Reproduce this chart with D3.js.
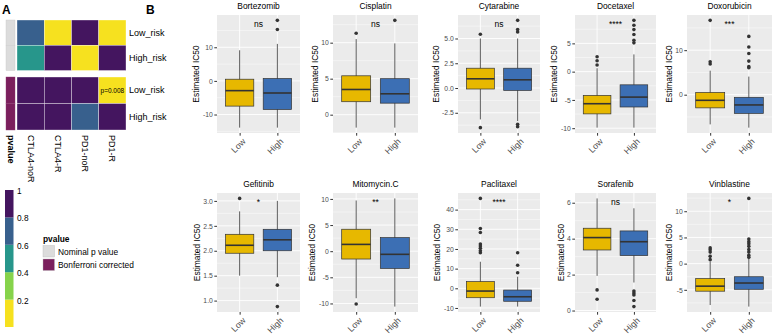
<!DOCTYPE html>
<html>
<head>
<meta charset="utf-8">
<script src="https://cdn.jsdelivr.net/npm/d3@7"></script>
<style>
  body { margin: 0; background: #fff; }
  svg text { font-family: "Liberation Sans", Arial, sans-serif; }
</style>
</head>
<body>
<div id="container"></div>
<script>
/* CONSTANTS AND GLOBALS */
const width = 774;
const height = 335;

/* DATA - panel A */
const heatCols = ["CTLA4-noR", "CTLA4-R", "PD1-noR", "PD1-R"];
const heatRows = ["Low_risk", "High_risk"];
const nominalP = [[0.68, 0.12, 0.91, 0.001], [0.52, 0.93, 0.09, 0.95]];
const bonferroniP = [[1, 1, 1, 0.008], [1, 1, 0.72, 1]];
const colorBreaks = [0, 0.2, 0.4, 0.6, 0.8, 1];
const colorLabels = ["0.2", "0.4", "0.6", "0.8", "1"];
const binColors = ["#f6e11f", "#86d34b", "#27968b", "#38608d", "#44155f"];

/* DATA - panel B */
const groups = ["Low", "High"];
const drugs = ["Bortezomib", "Cisplatin", "Cytarabine", "Docetaxel", "Doxorubicin",
               "Gefitinib", "Mitomycin.C", "Paclitaxel", "Sorafenib", "Vinblastine"];
const sigLabels = ["ns", "ns", "ns", "****", "***", "*", "**", "****", "ns", "*"];
// [lower whisker, q1, median, q3, upper whisker]
const lowBox = [
  [-13.9, -7.5, -2.9, 0.5, 9.1],
  [-1.8, 1.8, 3.5, 5.4, 10.5],
  [-3.17, -0.1, 0.93, 2.0, 5.0],
  [-9.9, -7.47, -5.67, -4.2, 0.6],
  [-6.67, -2.96, -1.26, 0.5, 5.4],
  [1.5, 1.95, 2.11, 2.33, 2.79],
  [-9.0, -1.5, 1.3, 4.2, 9.7],
  [-9.3, -4.8, -1.4, 3.4, 13.5],
  [1.93, 3.37, 4.06, 4.58, 6.24],
  [-7.9, -5.26, -4.3, -2.85, 0.4]
];
const highBox = [
  [-13.9, -8.5, -3.6, 0.7, 11.0],
  [-1.8, 1.6, 2.9, 5.0, 9.9],
  [-3.34, -0.24, 0.83, 2.0, 5.0],
  [-9.9, -6.25, -4.5, -2.33, 3.05],
  [-7.4, -4.2, -2.3, -0.59, 4.07],
  [1.47, 2.0, 2.22, 2.43, 3.0],
  [-10.6, -3.3, -0.6, 2.6, 10.1],
  [-9.3, -6.6, -4.3, -0.9, 5.9],
  [1.56, 3.06, 3.83, 4.43, 5.69],
  [-8.2, -4.9, -3.7, -2.5, 0.9]
];
const lowOut = [
  [], [11.3], [5.43, -4.0], [2.63, 1.93, 1.18], [16.7, 7.4, 6.9],
  [3.05], [-10.1], [45.7, 30.4, 28.4, 22.5, 21.5, 20.3, 19.1, 18.1],
  [1.15, 0.63], [3.0, 2.66, 2.2, 1.39, 0.76]
];
const highOut = [
  [15.3, 18.0], [13.1], [6.83, 5.9, 5.66, -3.67, -3.9], [9.07, 8.2, 7.44, 6.56, 5.56, 5.09],
  [13.1, 10.7, 9.26, 7.55, 6.3, 6.07],
  [1.31, 0.88], [], [18.1, 11.7, 7.9],
  [1.09, 0.97, 0.87, 0.56, 0.22], [12.45, 4.7, 4.2, 3.8, 3.3, 2.7, 2.2, 1.6, 1.2]
];
const yTicks = [
  [-10, 0, 10], [0, 5, 10], [-2.5, 0, 2.5, 5], [-10, -5, 0, 5], [0, 10],
  [1, 1.5, 2, 2.5, 3], [-10, -5, 0, 5, 10], [-10, 0, 10, 20, 30, 40], [0, 2, 4, 6], [-5, 0, 5, 10]
];
const groupColors = ["#E7B800", "#3C6FB4"];

/* LAYOUT */
const colLeft = [217, 333, 458, 575, 687];
const colRight = [300, 418, 540, 656, 772];
const rowTop = [15, 193];
const rowBottom = [133, 312];

/* HTML ELEMENTS */
const svg = d3.select("#container")
  .append("svg")
  .attr("width", width)
  .attr("height", height)

// panel letters
svg.append("text").attr("x", 2).attr("y", 14).text("A")
  .style("font-weight", "bold").style("font-size", "12px")
svg.append("text").attr("x", 146).attr("y", 14).text("B")
  .style("font-weight", "bold").style("font-size", "12px")

/* PANEL A - heatmap */
const color = d3.scaleThreshold()
  .domain([0.2, 0.4, 0.6, 0.8])
  .range(binColors);

const xHeat = d3.scaleBand().domain(heatCols).range([17, 126]);
const blocks = [
  { vals: nominalP, top: 20, bottom: 70.5, ann: "#dcdcdc" },
  { vals: bonferroniP, top: 77, bottom: 130, ann: "#7b1f5d" }
];

blocks.forEach(b => {
  const yHeat = d3.scaleBand().domain(heatRows).range([b.top, b.bottom]);
  const g = svg.append("g");
  heatRows.forEach((row, ri) => {
    // annotation column
    g.append("rect")
      .attr("x", 6).attr("y", yHeat(row))
      .attr("width", 9).attr("height", yHeat.bandwidth())
      .attr("fill", b.ann)
      .attr("stroke", b.ann === "#dcdcdc" ? "#c8c8c8" : "#8e3a70")
      .attr("stroke-width", 0.4)
    heatCols.forEach((col, ci) => {
      const v = b.vals[ri][ci];
      g.append("rect")
        .attr("x", xHeat(col)).attr("y", yHeat(row))
        .attr("width", xHeat.bandwidth()).attr("height", yHeat.bandwidth())
        .attr("fill", color(v))
        .attr("stroke", "#ffffff").attr("stroke-width", 0.5).attr("stroke-opacity", 0.7)
      if (b.vals === bonferroniP && v < 0.05) {
        g.append("text")
          .attr("x", xHeat(col) + xHeat.bandwidth() / 2)
          .attr("y", yHeat(row) + yHeat.bandwidth() / 2)
          .attr("text-anchor", "middle").attr("dominant-baseline", "central")
          .style("font-size", "6.5px")
          .text("p=" + v)
      }
    })
    g.append("text")
      .attr("x", 129).attr("y", yHeat(row) + yHeat.bandwidth() / 2)
      .attr("dominant-baseline", "central")
      .style("font-size", "9px")
      .text(row)
  })
})

// column labels (rotated)
const colLabels = [{ name: "pvalue", x: 10.5, bold: true }]
  .concat(heatCols.map(c => ({ name: c, x: xHeat(c) + xHeat.bandwidth() / 2, bold: false })));
svg.selectAll("text.collab")
  .data(colLabels)
  .join("text")
  .attr("class", "collab")
  .attr("transform", d => `translate(${d.x},135) rotate(90)`)
  .attr("dominant-baseline", "central")
  .style("font-size", "9px")
  .style("font-weight", d => d.bold ? "bold" : "normal")
  .text(d => d.name)

// colour bar legend
const yBar = d3.scaleLinear().domain([0, 1]).range([327, 190]);
svg.selectAll("rect.bar")
  .data(d3.range(5))
  .join("rect")
  .attr("class", "bar")
  .attr("x", 5).attr("width", 8.5)
  .attr("y", i => yBar(colorBreaks[i + 1]))
  .attr("height", i => yBar(colorBreaks[i]) - yBar(colorBreaks[i + 1]))
  .attr("fill", i => binColors[i])
svg.selectAll("text.barlab")
  .data(colorLabels)
  .join("text")
  .attr("class", "barlab")
  .attr("x", 17).attr("y", d => yBar(+d) + 1)
  .attr("dominant-baseline", "central")
  .style("font-size", "8.3px")
  .text(d => d)

// annotation legend
svg.append("text").attr("x", 43).attr("y", 242).text("pvalue")
  .style("font-weight", "bold").style("font-size", "8.4px")
const annLegend = [["Nominal p value", "#dcdcdc"], ["Bonferroni corrected", "#7b1f5d"]];
annLegend.forEach((d, i) => {
  svg.append("rect").attr("x", 43).attr("y", 245.5 + i * 13.5)
    .attr("width", 11.5).attr("height", 11.5)
    .attr("fill", d[1]).attr("stroke", "#bbbbbb").attr("stroke-width", 0.4)
  svg.append("text").attr("x", 58).attr("y", 251.5 + i * 13.5)
    .attr("dominant-baseline", "central")
    .style("font-size", "8.4px")
    .text(d[0])
})

/* PANEL B - boxplots */
drugs.forEach((drug, i) => {
  const r = Math.floor(i / 5), c = i % 5;
  const left = colLeft[c], right = colRight[c], top = rowTop[r], bottom = rowBottom[r];
  const g = svg.append("g");

  const allVals = lowBox[i].concat(highBox[i], lowOut[i], highOut[i]);
  const [mn, mx] = d3.extent(allVals);
  const pad = (mx - mn) * 0.05;

  /* SCALES */
  const yScale = d3.scaleLinear().domain([mn - pad, mx + pad]).range([bottom, top]);
  const xScale = d3.scalePoint().domain(groups).range([left, right]).padding(0.6);
  const bw = xScale.step() * 0.75;

  // panel background + grid
  g.append("rect").attr("x", left).attr("y", top)
    .attr("width", right - left).attr("height", bottom - top).attr("fill", "#ebebeb")
  const ticks = yTicks[i];
  const step = ticks[1] - ticks[0];
  const minors = [];
  for (let v = ticks[0] - step / 2; v <= yScale.domain()[1]; v += step) {
    if (v >= yScale.domain()[0]) minors.push(v);
  }
  g.selectAll("line.minor").data(minors).join("line")
    .attr("x1", left).attr("x2", right)
    .attr("y1", d => yScale(d)).attr("y2", d => yScale(d))
    .attr("stroke", "#fff").attr("stroke-width", 0.45)
  g.selectAll("line.major").data(ticks).join("line")
    .attr("x1", left).attr("x2", right)
    .attr("y1", d => yScale(d)).attr("y2", d => yScale(d))
    .attr("stroke", "#fff").attr("stroke-width", 0.9)
  g.selectAll("line.vmajor").data(groups).join("line")
    .attr("x1", d => xScale(d)).attr("x2", d => xScale(d))
    .attr("y1", top).attr("y2", bottom)
    .attr("stroke", "#fff").attr("stroke-width", 0.9)

  // boxes
  const stats = [lowBox[i], highBox[i]];
  const outs = [lowOut[i], highOut[i]];
  groups.forEach((grp, gi) => {
    const s = stats[gi];
    const cx = xScale(grp);
    g.append("line").attr("x1", cx).attr("x2", cx)
      .attr("y1", yScale(s[0])).attr("y2", yScale(s[4]))
      .attr("stroke", "#333").attr("stroke-width", 0.8)
    g.append("rect")
      .attr("x", cx - bw / 2).attr("width", bw)
      .attr("y", yScale(s[3])).attr("height", yScale(s[1]) - yScale(s[3]))
      .attr("fill", groupColors[gi]).attr("stroke", "#333").attr("stroke-width", 0.7)
    g.append("line").attr("x1", cx - bw / 2).attr("x2", cx + bw / 2)
      .attr("y1", yScale(s[2])).attr("y2", yScale(s[2]))
      .attr("stroke", "#333").attr("stroke-width", 1.6)
    g.selectAll(null).data(outs[gi]).join("circle")
      .attr("cx", cx).attr("cy", d => yScale(d)).attr("r", 1.8)
      .attr("fill", "#333")
  })

  // significance label
  g.append("text")
    .attr("x", (left + right) / 2).attr("y", top + 12)
    .attr("text-anchor", "middle")
    .style("font-size", "8.5px")
    .text(sigLabels[i])

  // title
  g.append("text")
    .attr("x", (left + right) / 2).attr("y", top - 6.5)
    .attr("text-anchor", "middle")
    .style("font-size", "8.4px")
    .text(drug)

  /* AXES */
  const fmt = ticks.some(t => t % 1 !== 0) ? d3.format(".1f") : d3.format("d");
  const yAxis = g.append("g")
    .attr("transform", `translate(${left},0)`)
    .call(d3.axisLeft(yScale).tickValues(ticks).tickSize(2.7).tickPadding(1.5)
      .tickFormat(d => fmt(d).replace("\u2212", "-")))
  yAxis.select(".domain").remove()
  yAxis.selectAll("line").attr("stroke", "#333")
  yAxis.selectAll("text").attr("fill", "#4d4d4d").style("font-size", "6.8px")

  const xAxis = g.append("g")
    .attr("transform", `translate(0,${bottom})`)
    .call(d3.axisBottom(xScale).tickSize(2.7))
  xAxis.select(".domain").remove()
  xAxis.selectAll("line").attr("stroke", "#333")
  xAxis.selectAll("text")
    .attr("x", 0).attr("y", 0).attr("dy", "0.72em")
    .attr("transform", "translate(1.5,4.5) rotate(-45)")
    .attr("text-anchor", "end")
    .attr("fill", "#4d4d4d")
    .style("font-size", "8.8px")

  // y axis title
  const axLeft = yAxis.node().getBBox().x + left;
  g.append("text")
    .attr("transform", `translate(${axLeft - 3.5},${(top + bottom) / 2}) rotate(-90)`)
    .attr("text-anchor", "middle")
    .style("font-size", "8.4px")
    .text("Estimated IC50")
})
</script>
</body>
</html>
